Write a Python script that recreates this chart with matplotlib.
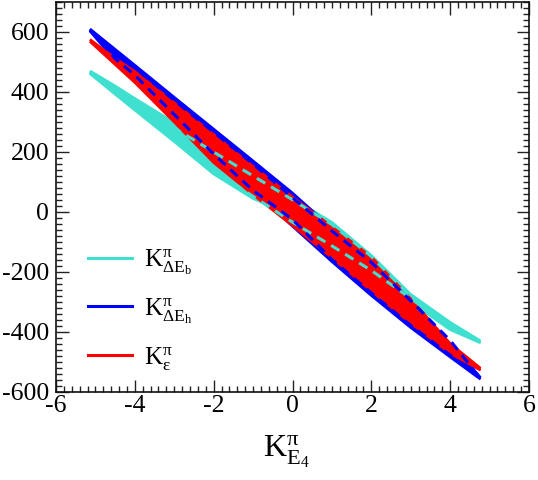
import numpy as np
import matplotlib
matplotlib.use("Agg")
import matplotlib.pyplot as plt
from matplotlib.lines import Line2D

plt.rcParams['font.family'] = ['Liberation Serif', 'DejaVu Serif']
plt.rcParams['mathtext.fontset'] = 'custom'
plt.rcParams['mathtext.rm'] = 'Liberation Serif'
plt.rcParams['mathtext.it'] = 'Liberation Serif:italic'
plt.rcParams['mathtext.bf'] = 'Liberation Serif:bold'
plt.rcParams['axes.unicode_minus'] = False

# ---- data ----
x_nodes = [-5.14, -4.5, -4.0, -3.0, -2.0, -1.0, 0.0, 1.0, 2.0, 3.0, 4.0, 4.77]

turq_upper   = [470, 420, 378, 298, 215, 128, 45, -35, -145, -275, -368, -430]
turq_lower   = [462, 393, 340, 235, 127, 45, -10, -95, -190, -300, -392, -436]
turq_dash_hi = [467, 414, 370, 280, 200, 120, 41, -42, -148, -282, -378, -433]
turq_dash_lo = [464, 398, 346, 245, 140, 52, -34, -113, -195, -288, -386, -434]

blue_upper   = [610, 542, 489, 382, 276, 170, 63, -55, -160, -300, -440, -552]
blue_lower   = [604, 505, 454, 322, 194, 72, -47, -165, -278, -385, -483, -557]
blue_dash_hi = [608, 530, 480, 372, 266, 160, 48, -63, -168, -296, -428, -555]
blue_dash_lo = [606, 512, 456, 325, 193, 72, -25, -158, -270, -378, -477, -556]

red_upper    = [575, 512, 468, 364, 258, 152, 50, -50, -150, -290, -439, -521]
red_lower    = [569, 492, 432, 300, 165, 58, -45, -152, -263, -370, -471, -527]

labels = [r'$\mathrm{K}^{\mathrm{π}}_{\mathrm{ΔE}_{\mathrm{b}}}$',
          r'$\mathrm{K}^{\mathrm{π}}_{\mathrm{ΔE}_{\mathrm{h}}}$',
          r'$\mathrm{K}^{\mathrm{π}}_{\mathrm{ε}}$']
xlabel = r'$\mathrm{K}^{\mathrm{π}}_{\mathrm{E}_{4}}$'
xticks = [-6, -4, -2, 0, 2, 4, 6]
yticks = [-600, -400, -200, 0, 200, 400, 600]

c_turq = '#40E0D0'
c_blue = '#0000FF'
c_red = '#FF0000'

fig = plt.figure(figsize=(5.38, 4.8), dpi=100)
ax = fig.add_axes([56/538, 88/480, 473/538, 390/480])

x = np.array(x_nodes)
for up, lo, c in [(turq_upper, turq_lower, c_turq),
                  (blue_upper, blue_lower, c_blue),
                  (red_upper, red_lower, c_red)]:
    ax.fill_between(x, lo, up, color=c, linewidth=0, zorder=2)
    ax.plot(x, up, color=c, lw=2, zorder=2, solid_capstyle='butt')
    ax.plot(x, lo, color=c, lw=2, zorder=2, solid_capstyle='butt')

for y, c in [(turq_dash_hi, c_turq), (turq_dash_lo, c_turq),
             (blue_dash_hi, c_blue), (blue_dash_lo, c_blue)]:
    ax.plot(x, y, color=c, lw=2.2, linestyle=(0, (3.2, 2.2)), zorder=4)

ax.set_xlim(-6, 6)
ax.set_ylim(-600, 700)
ax.set_xticks(xticks)
ax.set_xticklabels([str(v) for v in xticks])
ax.set_yticks(yticks)
ax.set_yticklabels([str(v) for v in yticks])
ax.xaxis.set_minor_locator(matplotlib.ticker.MultipleLocator(0.2))
ax.yaxis.set_minor_locator(matplotlib.ticker.MultipleLocator(20))
ax.tick_params(which='both', direction='in', top=True, right=True, width=1.0, color='#222222')
ax.tick_params(which='major', length=9, labelsize=18.5)
ax.tick_params(which='minor', length=4.5)
ax.tick_params(axis='x', which='major', pad=2.5)
ax.tick_params(axis='y', which='major', pad=5)
for s in ax.spines.values():
    s.set_linewidth(1.2)
    s.set_color('#111111')

ax.set_xlabel(xlabel, fontsize=23, labelpad=12)
ax.xaxis.label.set_x(0.487)

handles = [Line2D([], [], color=c, lw=2.2) for c in (c_turq, c_blue, c_red)]
leg = ax.legend(handles, labels, loc='center left', bbox_to_anchor=(0.068, 0.212),
                frameon=False, fontsize=18, handlelength=1.75, handletextpad=0.5,
                labelspacing=0.75, borderpad=0, borderaxespad=0)

fig.savefig('out.png', dpi=100)
